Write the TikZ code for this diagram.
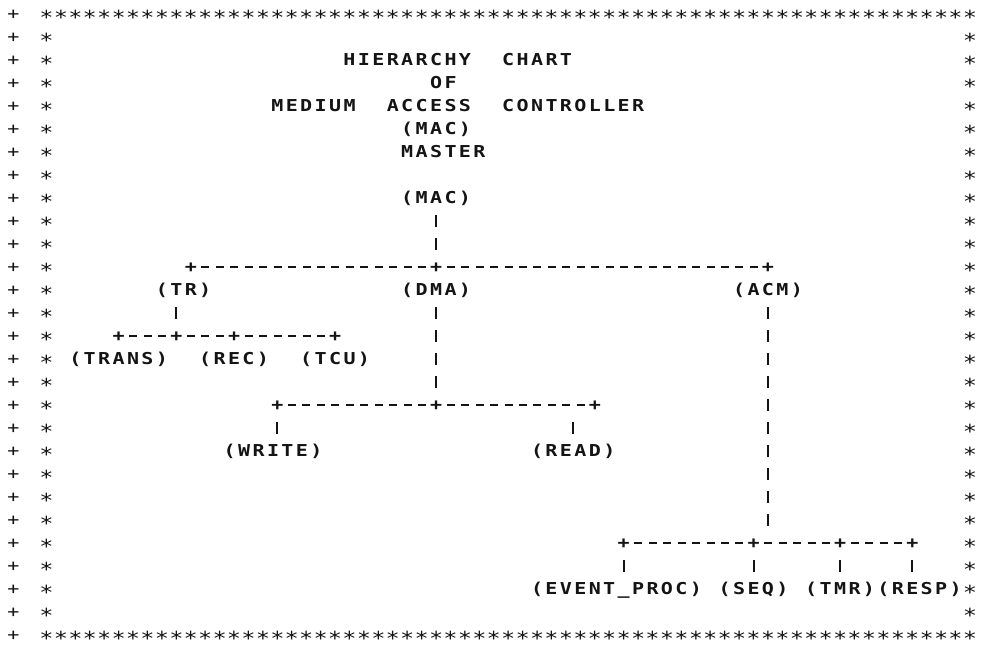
\documentclass[tikz,border=0pt]{standalone}
\usepackage{fontspec}
\usepackage{xcolor}
\usepackage{tikz}
\newfontfamily\dotfont[FakeStretch=1.22,LetterSpace=14.6]{DejaVu Sans Mono}
\definecolor{inkBlack}{RGB}{20,20,20}

\begin{document}
\begin{tikzpicture}[x=0.4329cm,y=-0.69cm,
    txt/.style={font=\dotfont\bfseries\fontsize{14}{15}\selectfont,inkBlack,
      inner sep=0pt,text height=10.2pt,text depth=0pt,minimum height=0.69cm},
    jn/.style={txt,minimum width=0.4329cm},
    brd/.style={font=\dotfont\fontsize{16.5}{17}\selectfont,inkBlack,
      inner sep=0pt,text height=10.2pt,text depth=0pt},
    hbar/.style={inkBlack,line width=1.4pt,
      dash pattern=on 0.24cm off 0.193cm,dash phase=0.336cm},
    vbar/.style={inkBlack,line width=1.7pt,
      dash pattern=on 0.36cm off 0.33cm,dash phase=0.525cm}]
  \useasboundingbox (-3.222,-0.6087) rectangle (64.90,27.652);
  % Border
  \foreach \c in {0,...,64}{
    \node[brd] (bt\c) at (\c,0) {\raisebox{-3.6pt}{*}};
    \node[brd] (bb\c) at (\c,27) {\raisebox{-3.6pt}{*}};
  }
  \foreach \r in {1,...,26}{
    \node[brd] (bl\r) at (0,\r) {\raisebox{-3.6pt}{*}};
    \node[brd] (br\r) at (64,\r) {\raisebox{-3.6pt}{*}};
  }
  \foreach \r in {0,...,27}
    \node[txt,font=\dotfont\fontsize{14}{15}\selectfont] (pl\r) at (-2.3,\r) {+};
  % Title
  \node[txt] (hier) at (25,2) {HIERARCHY};
  \node[txt] (chart) at (34,2) {CHART};
  \node[txt] (of) at (27.5,3) {OF};
  \node[txt] (medium) at (18.5,4) {MEDIUM};
  \node[txt] (access) at (26.5,4) {ACCESS};
  \node[txt] (ctrl) at (36.5,4) {CONTROLLER};
  \node[txt] (macname) at (27,5) {(MAC)};
  \node[txt] (master) at (27.5,6) {MASTER};
  % Modules
  \node[txt] (mac) at (27,8) {(MAC)};
  \node[txt] (tr) at (9.5,12) {(TR)};
  \node[txt] (dma) at (27,12) {(DMA)};
  \node[txt] (acm) at (50,12) {(ACM)};
  \node[txt] (trans) at (5,15) {(TRANS)};
  \node[txt] (rec) at (13,15) {(REC)};
  \node[txt] (tcu) at (20,15) {(TCU)};
  \node[txt] (write) at (15.7,19) {(WRITE)};
  \node[txt] (read) at (36.5,19) {(READ)};
  \node[txt] (evproc) at (39.5,25) {(EVENT\_PROC)};
  \node[txt] (seq) at (49,25) {(SEQ)};
  \node[txt] (tmr) at (55,25) {(TMR)};
  \node[txt] (resp) at (60.5,25) {(RESP)};
  % Junctions
  \node[jn] (jtr) at (10,11) {+};
  \node[jn] (jmac) at (27,11) {+};
  \node[jn] (jacm) at (50,11) {+};
  \node[jn] (jtrans) at (5,14) {+};
  \node[jn] (jtrd) at (9,14) {+};
  \node[jn] (jrec) at (13,14) {+};
  \node[jn] (jtcu) at (20,14) {+};
  \node[jn] (jwrite) at (16,17) {+};
  \node[jn] (jdma) at (27,17) {+};
  \node[jn] (jread) at (38,17) {+};
  \node[jn] (jev) at (40,23) {+};
  \node[jn] (jseq) at (49,23) {+};
  \node[jn] (jtmr) at (55,23) {+};
  \node[jn] (jresp) at (60,23) {+};
  % Bars
  \draw[hbar] (jtr) -- (jmac) -- (jacm);
  \draw[hbar] (jtrans) -- (jtrd) -- (jrec) -- (jtcu);
  \draw[hbar] (jwrite) -- (jdma) -- (jread);
  \draw[hbar] (jev) -- (jseq) -- (jtmr) -- (jresp);
  % Verticals
  \draw[vbar] (mac) -- (jmac);
  \draw[vbar] (jtrd |- tr.south) -- (jtrd);
  \draw[vbar] (dma) -- (jdma);
  \draw[vbar] (acm) -- (acm |- jseq.north);
  \draw[vbar] (jwrite) -- (jwrite |- write.north);
  \draw[vbar] (read.north |- jread.south) -- (read);
  \draw[vbar] (jev) -- (jev |- evproc.north);
  \draw[vbar] (jseq) -- (seq);
  \draw[vbar] (jtmr) -- (tmr);
  \draw[vbar] (jresp) -- (jresp |- resp.north);
\end{tikzpicture}
\end{document}
